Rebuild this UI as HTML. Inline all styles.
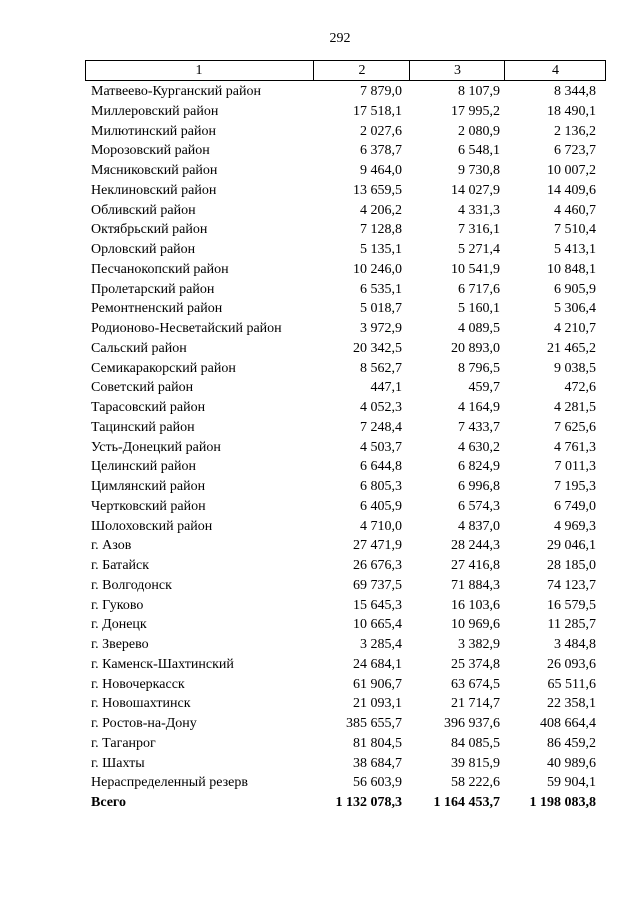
<!DOCTYPE html>
<html><head><meta charset="utf-8"><style>
body{margin:0;background:#fff;width:640px;height:905px;position:relative;font-family:"Liberation Serif",serif;font-size:14px;color:#000;overflow:hidden}
.pn{position:absolute;top:31px;left:0;width:680px;text-align:center;font-size:14px}
.hdr{position:absolute;top:60px;left:85px;width:521px;height:21px;border:1px solid #000;box-sizing:border-box}
.hdr div{position:absolute;top:0;height:19px;line-height:19px;text-align:center;border-left:1px solid #000}
.r{position:absolute;left:0;width:640px;height:20px;line-height:20px}
.r span{position:absolute;top:0}
.n{left:91px}
.a{right:238px}.b{right:140px}.c{right:44px}
.bold{font-weight:bold}
</style></head><body>
<div class="pn">292</div>
<div class="hdr">
<div style="left:-1px;width:228px;border-left:none">1</div>
<div style="left:227px;width:96px">2</div>
<div style="left:323px;width:95px">3</div>
<div style="left:418px;width:101px">4</div>
</div>
<div id="rows"></div>
<script>
var d=[["Матвеево-Курганский район","7 879,0","8 107,9","8 344,8"],
["Миллеровский район","17 518,1","17 995,2","18 490,1"],
["Милютинский район","2 027,6","2 080,9","2 136,2"],
["Морозовский район","6 378,7","6 548,1","6 723,7"],
["Мясниковский район","9 464,0","9 730,8","10 007,2"],
["Неклиновский район","13 659,5","14 027,9","14 409,6"],
["Обливский район","4 206,2","4 331,3","4 460,7"],
["Октябрьский район","7 128,8","7 316,1","7 510,4"],
["Орловский район","5 135,1","5 271,4","5 413,1"],
["Песчанокопский район","10 246,0","10 541,9","10 848,1"],
["Пролетарский район","6 535,1","6 717,6","6 905,9"],
["Ремонтненский район","5 018,7","5 160,1","5 306,4"],
["Родионово-Несветайский район","3 972,9","4 089,5","4 210,7"],
["Сальский район","20 342,5","20 893,0","21 465,2"],
["Семикаракорский район","8 562,7","8 796,5","9 038,5"],
["Советский район","447,1","459,7","472,6"],
["Тарасовский район","4 052,3","4 164,9","4 281,5"],
["Тацинский район","7 248,4","7 433,7","7 625,6"],
["Усть-Донецкий район","4 503,7","4 630,2","4 761,3"],
["Целинский район","6 644,8","6 824,9","7 011,3"],
["Цимлянский район","6 805,3","6 996,8","7 195,3"],
["Чертковский район","6 405,9","6 574,3","6 749,0"],
["Шолоховский район","4 710,0","4 837,0","4 969,3"],
["г. Азов","27 471,9","28 244,3","29 046,1"],
["г. Батайск","26 676,3","27 416,8","28 185,0"],
["г. Волгодонск","69 737,5","71 884,3","74 123,7"],
["г. Гуково","15 645,3","16 103,6","16 579,5"],
["г. Донецк","10 665,4","10 969,6","11 285,7"],
["г. Зверево","3 285,4","3 382,9","3 484,8"],
["г. Каменск-Шахтинский","24 684,1","25 374,8","26 093,6"],
["г. Новочеркасск","61 906,7","63 674,5","65 511,6"],
["г. Новошахтинск","21 093,1","21 714,7","22 358,1"],
["г. Ростов-на-Дону","385 655,7","396 937,6","408 664,4"],
["г. Таганрог","81 804,5","84 085,5","86 459,2"],
["г. Шахты","38 684,7","39 815,9","40 989,6"],
["Нераспределенный резерв","56 603,9","58 222,6","59 904,1"],
["Всего","1 132 078,3","1 164 453,7","1 198 083,8"]];
var h="";
for(var i=0;i<d.length;i++){var y=82+i*19.75;var b=i==d.length-1?" bold":"";
h+='<div class="r'+b+'" style="top:'+y+'px"><span class="n">'+d[i][0]+'</span><span class="a">'+d[i][1]+'</span><span class="b">'+d[i][2]+'</span><span class="c">'+d[i][3]+'</span></div>';}
document.getElementById("rows").innerHTML=h;
</script>
</body></html>
